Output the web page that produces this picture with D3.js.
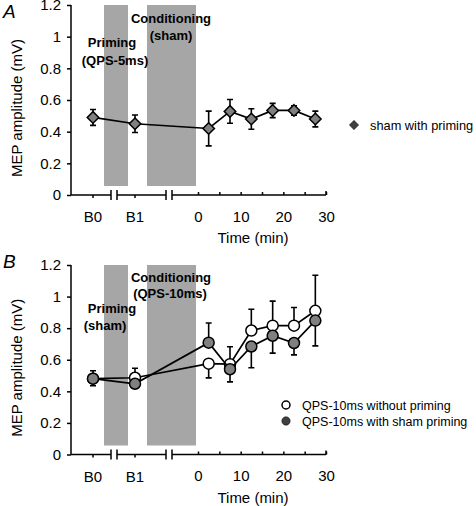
<!DOCTYPE html>
<html><head><meta charset="utf-8">
<script src="https://cdn.jsdelivr.net/npm/d3@7"></script>
<style>body{margin:0;background:#fff}svg{display:block;font-family:"Liberation Sans",Arial,sans-serif}</style>
</head><body><svg id="c" width="476" height="506"></svg>
<script>
const xCats = ["B0","B1",2.5,7.5,12.5,17.5,22.5,27.5];
const yTicks = [0,0.2,0.4,0.6,0.8,1,1.2];
const timeTicks = [0,5,10,15,20,25,30];
const timeLabels = [0,10,20,30];
// Panel A
const shamPriming = [0.49,0.45,0.42,0.528,0.48,0.534,0.534,0.48];
const shamPrimingErr = [0.05,0.055,0.11,0.075,0.065,0.045,0.03,0.05];
// Panel B
const noPriming = [0.48,0.486,0.575,0.572,0.785,0.816,0.816,0.91];
const noPrimingErrUp = [0.05,0.06,0,0.11,0.135,0.155,0.115,0.225];
const noPrimingErrDown = [0,0,0.09,0,0,0,0,0];
const shamPrime = [0.48,0.448,0.708,0.54,0.684,0.752,0.706,0.848];
const shamPrimeErrUp = [0,0,0.125,0,0,0,0,0];
const shamPrimeErrDown = [0.045,0.02,0,0.08,0.135,0.11,0.075,0.16];

const svg = d3.select("#c");
const xb = d3.scalePoint().domain(["B0","B1"]).range([93,135]);
const xt = d3.scaleLinear().domain([0,30]).range([198,326]);
const X = v => typeof v === "string" ? xb(v) : xt(v);

function panel(top, y0, y1, letter, primTxt, condTxt, series, legend){
  const y = d3.scaleLinear().domain([0,1.2]).range([y0,y1]);
  const g = svg.append("g");
  g.append("rect").attr("x",104).attr("y",y(1.2)).attr("width",24).attr("height",y(0)-9-y(1.2)).attr("fill","#a6a6a6");
  g.append("rect").attr("x",147).attr("y",y(1.2)).attr("width",49).attr("height",y(0)-9-y(1.2)).attr("fill","#a6a6a6");
  const ya = g.append("g").attr("transform","translate(71,0)")
    .call(d3.axisLeft(y).tickValues(yTicks).tickSize(4).tickSizeOuter(0).tickFormat(d=>d3.format("~g")(d)));
  ya.selectAll("path,line").attr("stroke","#000").attr("stroke-width",1.5);
  ya.selectAll("text").attr("font-size",15).attr("fill","#000").attr("x",-10);
  ya.select(".domain").attr("d",`M0,${y(0)}V${y(1.2)}`);
  const ay = y(0);
  const segs = [[71,111],[117,166],[172,326]];
  segs.forEach(s=>{
    g.append("line").attr("x1",s[0]).attr("x2",s[1]).attr("y1",ay).attr("y2",ay).attr("stroke","#000").attr("stroke-width",1.5);
    [s[0],s[1]].forEach(e=>{ if(e!==71 && e!==326) g.append("line").attr("x1",e).attr("x2",e).attr("y1",ay-5).attr("y2",ay+5).attr("stroke","#000").attr("stroke-width",1.5);});
  });
  g.append("line").attr("x1",326).attr("x2",326).attr("y1",ay-4).attr("y2",ay).attr("stroke","#000").attr("stroke-width",1.5);
  ["B0","B1"].forEach(c=>{
    g.append("line").attr("x1",xb(c)).attr("x2",xb(c)).attr("y1",ay).attr("y2",ay+3).attr("stroke","#000").attr("stroke-width",1.5);
    g.append("text").attr("x",xb(c)).attr("y",ay+27).attr("text-anchor","middle").attr("font-size",15).text(c);
  });
  const xa = g.append("g").attr("transform",`translate(0,${ay})`)
    .call(d3.axisBottom(xt).tickValues(timeTicks).tickSize(-3).tickSizeOuter(0).tickFormat(d=>timeLabels.includes(d)?d:""));
  xa.select(".domain").remove();
  xa.selectAll("line").attr("stroke","#000").attr("stroke-width",1.5);
  xa.selectAll("text").attr("font-size",15).attr("fill","#000").attr("y",16).attr("dy","0.71em");
  g.append("text").attr("x",253).attr("y",ay+48).attr("text-anchor","middle").attr("font-size",15).text("Time (min)");
  g.append("text").attr("x",3).attr("y",top+18).attr("font-size",19).attr("font-style","italic").text(letter);
  g.append("text").attr("transform",`translate(22,${(y(0)+y(1.2))/2+8}) rotate(-90)`).attr("text-anchor","middle").attr("font-size",15).text("MEP amplitude (mV)");
  primTxt.forEach(t=>g.append("text").attr("x",t[0]).attr("y",t[1]).attr("text-anchor","middle").attr("font-size",13).attr("font-weight","bold").text(t[2]));
  condTxt.forEach(t=>g.append("text").attr("x",t[0]).attr("y",t[1]).attr("text-anchor","middle").attr("font-size",13).attr("font-weight","bold").text(t[2]));
  series.forEach(s=>{
    const pts = xCats.map((c,i)=>({c, v:s.vals[i], up:s.up[i], dn:s.dn[i]}));
    const line = d3.line().x(d=>X(d.c)).y(d=>y(d.v));
    g.append("path").datum(pts).attr("d",line).attr("fill","none").attr("stroke","#000").attr("stroke-width",1.7);
    pts.forEach(d=>{
      const x = X(d.c);
      if(d.up>0){ g.append("path").attr("d",`M${x},${y(d.v)}V${y(d.v+d.up)}M${x-3},${y(d.v+d.up)}H${x+3}`).attr("stroke","#000").attr("stroke-width",1.6).attr("fill","none"); }
      if(d.dn>0){ g.append("path").attr("d",`M${x},${y(d.v)}V${y(d.v-d.dn)}M${x-3},${y(d.v-d.dn)}H${x+3}`).attr("stroke","#000").attr("stroke-width",1.6).attr("fill","none"); }
    });
    pts.forEach(d=>{
      g.append("path").attr("transform",`translate(${X(d.c)},${y(d.v)})`)
        .attr("d", d3.symbol().type(s.shape).size(s.size)())
        .attr("fill",s.fill).attr("stroke","#000").attr("stroke-width",1.5);
    });
  });
  legend.forEach(l=>{
    g.append("path").attr("transform",`translate(${l.x},${l.y})`).attr("d",d3.symbol().type(l.shape).size(l.size)())
      .attr("fill",l.fill).attr("stroke","#000").attr("stroke-width",l.sw);
    g.append("text").attr("x",l.x+16).attr("y",l.y+5).attr("font-size",l.fs).text(l.text);
  });
}

panel(0,195,5,"A",
  [[112,47,"Priming"],[115,65,"(QPS-5ms)"]],
  [[171,23,"Conditioning"],[171,40,"(sham)"]],
  [{vals:shamPriming, up:shamPrimingErr, dn:shamPrimingErr, shape:d3.symbolDiamond2, size:85, fill:"#808080"}],
  [{x:354,y:125,shape:d3.symbolDiamond2,size:55,fill:"#404040",sw:0.5,fs:12.8,text:"sham with priming"}]);

panel(250,454.5,265,"B",
  [[112,313,"Priming"],[105,330,"(sham)"]],
  [[171,282,"Conditioning"],[170,298,"(QPS-10ms)"]],
  [{vals:noPriming, up:noPrimingErrUp, dn:noPrimingErrDown, shape:d3.symbolCircle, size:95, fill:"#fff"},
   {vals:shamPrime, up:shamPrimeErrUp, dn:shamPrimeErrDown, shape:d3.symbolCircle, size:95, fill:"#808080"}],
  [{x:286,y:405,shape:d3.symbolCircle,size:50,fill:"#fff",sw:1.5,fs:12.5,text:"QPS-10ms without priming"},
   {x:286,y:421,shape:d3.symbolCircle,size:55,fill:"#404040",sw:0.5,fs:12.5,text:"QPS-10ms with sham priming"}]);
</script></body></html>
